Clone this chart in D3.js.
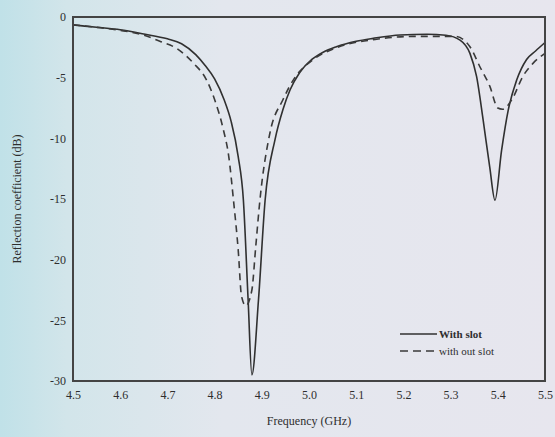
<!DOCTYPE html>
<html><head><meta charset="utf-8">
<script src="https://cdn.jsdelivr.net/npm/d3@7"></script>
<style>
html,body{margin:0;padding:0;}
svg{display:block;}
text{font-family:"Liberation Serif","DejaVu Serif",serif;fill:#2e2e2e;}
</style></head>
<body>
<script>
// Data
const freqWith = [4.50,4.55,4.60,4.65,4.70,4.73,4.76,4.78,4.80,4.82,4.835,4.85,4.861,4.871,4.879,4.893,4.907,4.928,4.945,4.96,4.98,5.006,5.03,5.058,5.10,5.136,5.193,5.25,5.29,5.32,5.341,5.355,5.369,5.383,5.394,5.408,5.422,5.44,5.461,5.48,5.50];
const withSlot = [-0.65,-0.85,-1.05,-1.4,-1.8,-2.2,-3.1,-4.0,-5.1,-6.8,-8.6,-11.5,-15.1,-23.3,-29.5,-23.3,-15.1,-10.1,-7.6,-6.0,-4.6,-3.5,-2.9,-2.45,-2.0,-1.76,-1.48,-1.42,-1.5,-1.9,-3.0,-4.9,-8.5,-12.4,-15.1,-11.0,-7.7,-5.2,-3.5,-2.8,-2.1];
const freqWithout = [4.50,4.55,4.60,4.65,4.684,4.72,4.755,4.783,4.80,4.818,4.83,4.84,4.85,4.857,4.866,4.879,4.887,4.896,4.917,4.945,4.97,5.006,5.06,5.14,5.22,5.31,5.341,5.362,5.383,5.40,5.41,5.43,5.453,5.475,5.50];
const withoutSlot = [-0.65,-0.85,-1.1,-1.5,-2.0,-2.6,-3.8,-5.2,-6.8,-9.2,-11.5,-15.1,-19.2,-23.0,-23.8,-22.5,-19.0,-15.1,-9.6,-6.8,-5.0,-3.6,-2.5,-1.85,-1.6,-1.6,-2.45,-4.1,-5.7,-7.5,-7.6,-6.8,-4.9,-3.8,-3.0];
const xTicks = [4.5,4.6,4.7,4.8,4.9,5.0,5.1,5.2,5.3,5.4,5.5];
const yTicks = [0,-5,-10,-15,-20,-25,-30];
const seriesNames = ["With slot","with out slot"];

const W = 555, H = 437;
const m = {left:73, right:10, top:17, bottom:56};
const svg = d3.select("body").append("svg").attr("width",W).attr("height",H);

const defs = svg.append("defs");
const grad = defs.append("linearGradient").attr("id","bg").attr("x1","0").attr("x2","1").attr("y1","0").attr("y2","0");
grad.append("stop").attr("offset","0").attr("stop-color","#c0e1e8");
grad.append("stop").attr("offset","0.12").attr("stop-color","#d2e5ea");
grad.append("stop").attr("offset","0.4").attr("stop-color","#e3e7ee");
grad.append("stop").attr("offset","1").attr("stop-color","#e7e6ee");
svg.append("rect").attr("width",W).attr("height",H).attr("fill","url(#bg)");

const x = d3.scaleLinear().domain([4.5,5.5]).range([m.left, W-m.right]);
const y = d3.scaleLinear().domain([0,-30]).range([m.top, H-m.bottom]);

const fmt = d3.format(".1f");
const xAxis = svg.append("g").attr("transform",`translate(0,${y(-30)})`)
  .call(d3.axisBottom(x).tickValues(xTicks).tickSizeInner(0).tickSizeOuter(0).tickPadding(9).tickFormat(fmt));
const yAxis = svg.append("g").attr("transform",`translate(${x(4.5)},0)`)
  .call(d3.axisLeft(y).tickValues(yTicks).tickSizeInner(0).tickSizeOuter(0).tickPadding(7).tickFormat(d=>d===0?"0":String(d)));
svg.selectAll(".domain").remove();
svg.selectAll("g text").attr("font-family","Liberation Serif, serif").attr("font-size",12).attr("fill","#2e2e2e");

const line = d3.line().x(d=>x(d[0])).y(d=>y(d[1])).curve(d3.curveMonotoneX);
svg.append("path").datum(freqWith.map((f,i)=>[f,withSlot[i]]))
  .attr("d",line).attr("fill","none").attr("stroke","#303030").attr("stroke-width",1.6);
svg.append("path").datum(freqWithout.map((f,i)=>[f,withoutSlot[i]]))
  .attr("d",line).attr("fill","none").attr("stroke","#3a3a3a").attr("stroke-width",1.6).attr("stroke-dasharray","7,5");

// frame as four <line> elements
const fx0 = x(4.5), fx1 = x(5.5), fy0 = y(0), fy1 = y(-30);
const frameSegs = [[fx0,fy0,fx1,fy0],[fx1,fy0,fx1,fy1],[fx1,fy1,fx0,fy1],[fx0,fy1,fx0,fy0]];
svg.append("g").selectAll("line").data(frameSegs).join("line")
  .attr("x1",d=>d[0]).attr("y1",d=>d[1]).attr("x2",d=>d[2]).attr("y2",d=>d[3])
  .attr("stroke","#444").attr("stroke-width",2).attr("stroke-linecap","square");

// legend
const lg = svg.append("g");
lg.append("line").attr("x1",400).attr("x2",437).attr("y1",334).attr("y2",334).attr("stroke","#303030").attr("stroke-width",1.6);
lg.append("line").attr("x1",400).attr("x2",437).attr("y1",351).attr("y2",351).attr("stroke","#3a3a3a").attr("stroke-width",1.4).attr("stroke-dasharray","8,5");
lg.append("text").attr("x",439).attr("y",338).attr("font-size",11).attr("font-weight","bold").text(seriesNames[0]);
lg.append("text").attr("x",439).attr("y",355).attr("font-size",11).text(seriesNames[1]);

// axis titles
svg.append("text").attr("x",(x(4.5)+x(5.5))/2).attr("y",425).attr("text-anchor","middle").attr("font-size",12).text("Frequency (GHz)");
svg.append("text").attr("transform",`translate(21,${(y(0)+y(-30))/2}) rotate(-90)`).attr("text-anchor","middle").attr("font-size",12).text("Reflection coefficient (dB)");
</script>
</body></html>
